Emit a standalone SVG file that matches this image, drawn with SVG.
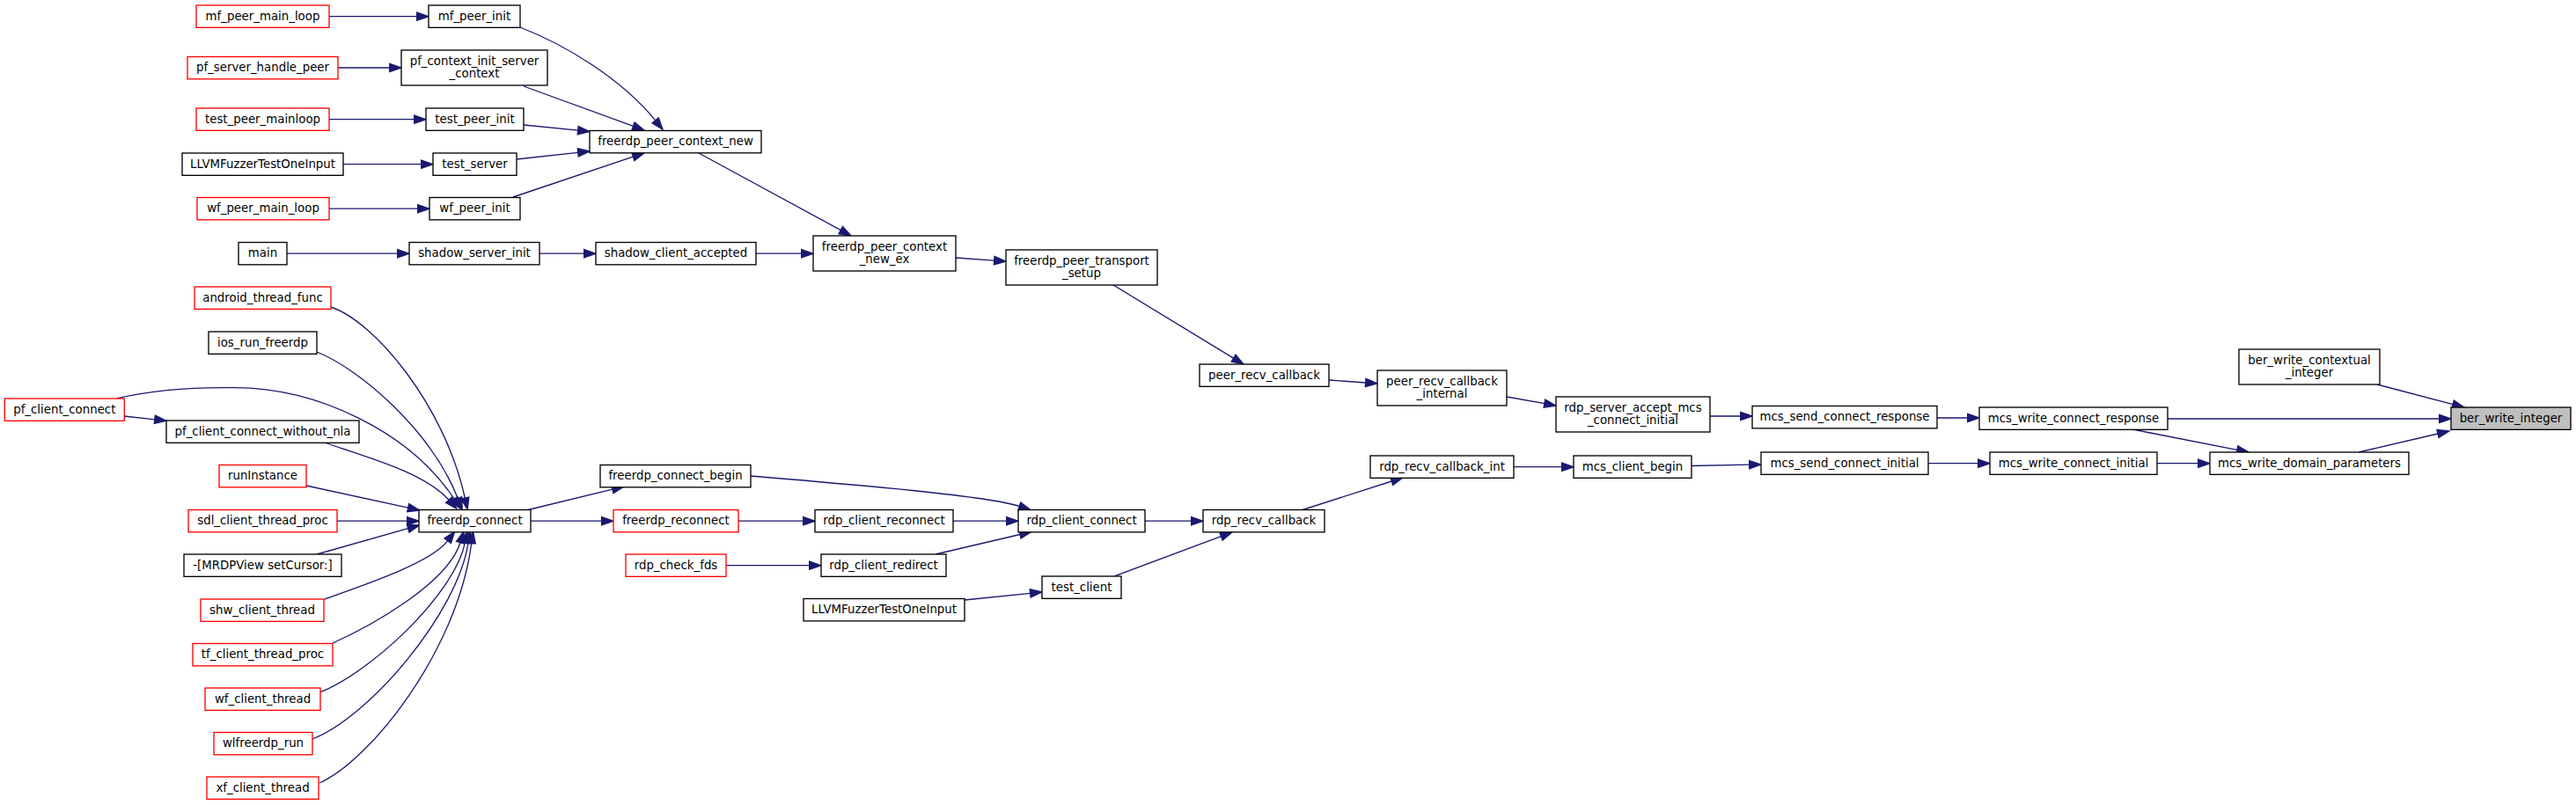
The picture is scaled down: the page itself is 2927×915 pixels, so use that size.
<svg xmlns="http://www.w3.org/2000/svg" width="2927" height="915" viewBox="0 0 2927 915">
<style>
.node rect{fill:#ffffff;stroke:#000000;stroke-width:1.33}
.node.red rect{stroke:#ff0000}
.node.hl rect{fill:#bfbfbf}
.node text{font-family:"DejaVu Sans","Liberation Sans",sans-serif;font-size:13.33px;text-anchor:middle;fill:#000000}
#edges path{fill:none;stroke:#191970;stroke-width:1.33;marker-end:url(#arr)}
</style>
<defs>
<marker id="arr" markerUnits="userSpaceOnUse" viewBox="-1 -6 16 12" markerWidth="16" markerHeight="12" refX="0" refY="0" orient="auto" overflow="visible">
<path d="M0,-4.67 L13.33,0 L0,4.67 Z" fill="#191970" stroke="#191970" stroke-width="1.33"/>
</marker>
</defs>
<rect x="0" y="0" width="2927" height="915" fill="#ffffff"/>
<g id="edges">
<path d="M374,18.7 H473.7"/>
<path d="M384,77 H442.7"/>
<path d="M374,135.7 H470.7"/>
<path d="M390,186.7 H478.7"/>
<path d="M374,237.2 H474.7"/>
<path d="M326,288.2 H451.7"/>
<path d="M613,288.2 H663.7"/>
<path d="M859,288.2 H910.7"/>
<path d="M591,31 C640,50 705,88 744.7,136.9"/>
<path d="M595,98 L719.5,143.4"/>
<path d="M595,142 L656.7,148.2"/>
<path d="M587,181 L656.8,173.4"/>
<path d="M583,224 L719.4,178.2"/>
<path d="M794,174 L955.3,261.6"/>
<path d="M1086,293 L1129.7,296.1"/>
<path d="M1265,324 L1401.6,407.1"/>
<path d="M1510,432 L1551.7,435"/>
<path d="M1712,451 L1754.9,458.7"/>
<path d="M1943,473 H1977.7"/>
<path d="M2201,475 H2235.7"/>
<path d="M2463,476 H2771.7"/>
<path d="M2423,488 L2541.9,511.4"/>
<path d="M2701,437 L2787.1,459.6"/>
<path d="M2680,514 L2770,493"/>
<path d="M2451,526.7 H2497.7"/>
<path d="M2191,526.7 H2247.7"/>
<path d="M1922,529.5 L1987.7,528.2"/>
<path d="M1720,530.7 H1774.7"/>
<path d="M1480,579.5 L1581.3,547"/>
<path d="M1301,592.2 H1353.7"/>
<path d="M1266,655 L1387.5,609.7"/>
<path d="M1096,682 L1170.7,674.4"/>
<path d="M1083,592.2 H1143.7"/>
<path d="M1063,630 L1159,607.5"/>
<path d="M853,541 C960,550 1120,563 1158.3,575.4"/>
<path d="M839,592.2 H912.7"/>
<path d="M825,642.7 H919.7"/>
<path d="M600,579.5 L696,556.1"/>
<path d="M603,592.2 H683.7"/>
<path d="M383,592.2 H462.7"/>
<path d="M348,552 L463.7,577.2"/>
<path d="M376,349 C425,365 505,460 528.3,566"/>
<path d="M360,400 C410,420 490,490 520.3,566.5"/>
<path d="M133.3,452.7 C180,442 230,440 266.7,440.7 C360,441 465,490 516,567.1"/>
<path d="M141.3,473 L175.8,476.8"/>
<path d="M369,503 C410,518 480,535 510,568.3"/>
<path d="M360,630 L463.7,600.6"/>
<path d="M369,681 C420,663 490.7,638.7 508.7,614.7"/>
<path d="M378,731 C420,712 508,664 523,616.7"/>
<path d="M364,786.7 C420,765 516.3,676 528.3,617.1"/>
<path d="M355,840 C420,815 520,696.4 532,617.2"/>
<path d="M363,890 C420,865 520,740 535.7,617.3"/>
</g>
<g id="n1" class="node red"><rect x="223" y="6" width="151" height="25.33"/><text x="298.5" y="22.7">mf_peer_main_loop</text></g>
<g id="n2" class="node red"><rect x="213" y="64.5" width="171" height="25.33"/><text x="298.5" y="81.2">pf_server_handle_peer</text></g>
<g id="n3" class="node red"><rect x="223" y="123" width="151" height="25.33"/><text x="298.5" y="139.7">test_peer_mainloop</text></g>
<g id="n4" class="node"><rect x="207" y="174" width="183" height="25.33"/><text x="298.5" y="190.7">LLVMFuzzerTestOneInput</text></g>
<g id="n5" class="node red"><rect x="224" y="224.5" width="150" height="25.33"/><text x="299" y="241.2">wf_peer_main_loop</text></g>
<g id="n6" class="node"><rect x="271" y="275.5" width="55" height="25.33"/><text x="298.5" y="292.2">main</text></g>
<g id="n7" class="node red"><rect x="221" y="326" width="155" height="25.33"/><text x="298.5" y="342.7">android_thread_func</text></g>
<g id="n8" class="node"><rect x="237" y="377" width="123" height="25.33"/><text x="298.5" y="393.7">ios_run_freerdp</text></g>
<g id="n9" class="node red"><rect x="5.3" y="453" width="136" height="25.33"/><text x="73.3" y="469.7">pf_client_connect</text></g>
<g id="n10" class="node"><rect x="189" y="478" width="219" height="25.33"/><text x="298.5" y="494.7">pf_client_connect_without_nla</text></g>
<g id="n11" class="node red"><rect x="249" y="528.5" width="99" height="25.33"/><text x="298.5" y="545.2">runInstance</text></g>
<g id="n12" class="node red"><rect x="214" y="579.5" width="169" height="25.33"/><text x="298.5" y="596.2">sdl_client_thread_proc</text></g>
<g id="n13" class="node"><rect x="209" y="630" width="179" height="25.33"/><text x="298.5" y="646.7">-[MRDPView setCursor:]</text></g>
<g id="n14" class="node red"><rect x="228" y="681" width="140" height="25.33"/><text x="298" y="697.7">shw_client_thread</text></g>
<g id="n15" class="node red"><rect x="219" y="731.5" width="159" height="25.33"/><text x="298.5" y="748.2">tf_client_thread_proc</text></g>
<g id="n16" class="node red"><rect x="233" y="782" width="131" height="25.33"/><text x="298.5" y="798.7">wf_client_thread</text></g>
<g id="n17" class="node red"><rect x="243" y="832.5" width="112" height="25.33"/><text x="299" y="849.2">wlfreerdp_run</text></g>
<g id="n18" class="node red"><rect x="235" y="883" width="127" height="25.33"/><text x="298.5" y="899.7">xf_client_thread</text></g>
<g id="n19" class="node"><rect x="487" y="6" width="104" height="25.33"/><text x="539" y="22.7">mf_peer_init</text></g>
<g id="n20" class="node"><rect x="456" y="57" width="166" height="40"/><text x="539" y="73.7">pf_context_init_server</text><text x="539" y="88.3">_context</text></g>
<g id="n21" class="node"><rect x="484" y="123" width="111" height="25.33"/><text x="539.5" y="139.7">test_peer_init</text></g>
<g id="n22" class="node"><rect x="492" y="174" width="95" height="25.33"/><text x="539.5" y="190.7">test_server</text></g>
<g id="n23" class="node"><rect x="488" y="224.5" width="103" height="25.33"/><text x="539.5" y="241.2">wf_peer_init</text></g>
<g id="n24" class="node"><rect x="465" y="275.5" width="148" height="25.33"/><text x="539" y="292.2">shadow_server_init</text></g>
<g id="n25" class="node"><rect x="476" y="579.5" width="127" height="25.33"/><text x="539.5" y="596.2">freerdp_connect</text></g>
<g id="n26" class="node"><rect x="670" y="148.5" width="195" height="25.33"/><text x="767.5" y="165.2">freerdp_peer_context_new</text></g>
<g id="n27" class="node"><rect x="677" y="275.5" width="182" height="25.33"/><text x="768" y="292.2">shadow_client_accepted</text></g>
<g id="n28" class="node"><rect x="682" y="528.5" width="171" height="25.33"/><text x="767.5" y="545.2">freerdp_connect_begin</text></g>
<g id="n29" class="node red"><rect x="697" y="579.5" width="142" height="25.33"/><text x="768" y="596.2">freerdp_reconnect</text></g>
<g id="n30" class="node red"><rect x="711" y="630" width="114" height="25.33"/><text x="768" y="646.7">rdp_check_fds</text></g>
<g id="n31" class="node"><rect x="924" y="268" width="162" height="40"/><text x="1005" y="284.7">freerdp_peer_context</text><text x="1005" y="299.3">_new_ex</text></g>
<g id="n32" class="node"><rect x="926" y="579.5" width="157" height="25.33"/><text x="1004.5" y="596.2">rdp_client_reconnect</text></g>
<g id="n33" class="node"><rect x="933" y="630" width="142" height="25.33"/><text x="1004" y="646.7">rdp_client_redirect</text></g>
<g id="n34" class="node"><rect x="913" y="680.5" width="183" height="25.33"/><text x="1004.5" y="697.2">LLVMFuzzerTestOneInput</text></g>
<g id="n35" class="node"><rect x="1143" y="284" width="172" height="40"/><text x="1229" y="300.7">freerdp_peer_transport</text><text x="1229" y="315.3">_setup</text></g>
<g id="n36" class="node"><rect x="1157" y="579.5" width="144" height="25.33"/><text x="1229" y="596.2">rdp_client_connect</text></g>
<g id="n37" class="node"><rect x="1184" y="655" width="90" height="25.33"/><text x="1229" y="671.7">test_client</text></g>
<g id="n38" class="node"><rect x="1363" y="414" width="147" height="25.33"/><text x="1436.5" y="430.7">peer_recv_callback</text></g>
<g id="n39" class="node"><rect x="1367" y="579.5" width="138" height="25.33"/><text x="1436" y="596.2">rdp_recv_callback</text></g>
<g id="n40" class="node"><rect x="1565" y="421" width="147" height="40"/><text x="1638.5" y="437.7">peer_recv_callback</text><text x="1638.5" y="452.3">_internal</text></g>
<g id="n41" class="node"><rect x="1557" y="518" width="163" height="25.33"/><text x="1638.5" y="534.7">rdp_recv_callback_int</text></g>
<g id="n42" class="node"><rect x="1768" y="451" width="175" height="40"/><text x="1855.5" y="467.7">rdp_server_accept_mcs</text><text x="1855.5" y="482.3">_connect_initial</text></g>
<g id="n43" class="node"><rect x="1788" y="518" width="134" height="25.33"/><text x="1855" y="534.7">mcs_client_begin</text></g>
<g id="n44" class="node"><rect x="1991" y="461.5" width="210" height="25.33"/><text x="2096" y="478.2">mcs_send_connect_response</text></g>
<g id="n45" class="node"><rect x="2001" y="514" width="190" height="25.33"/><text x="2096" y="530.7">mcs_send_connect_initial</text></g>
<g id="n46" class="node"><rect x="2249" y="463" width="214" height="25.33"/><text x="2356" y="479.7">mcs_write_connect_response</text></g>
<g id="n47" class="node"><rect x="2261" y="514" width="190" height="25.33"/><text x="2356" y="530.7">mcs_write_connect_initial</text></g>
<g id="n48" class="node"><rect x="2544" y="397" width="160" height="40"/><text x="2624" y="413.7">ber_write_contextual</text><text x="2624" y="428.3">_integer</text></g>
<g id="n49" class="node"><rect x="2511" y="514" width="226" height="25.33"/><text x="2624" y="530.7">mcs_write_domain_parameters</text></g>
<g id="n50" class="node hl"><rect x="2785" y="463" width="136" height="25.33"/><text x="2853" y="479.7">ber_write_integer</text></g>
</svg>
